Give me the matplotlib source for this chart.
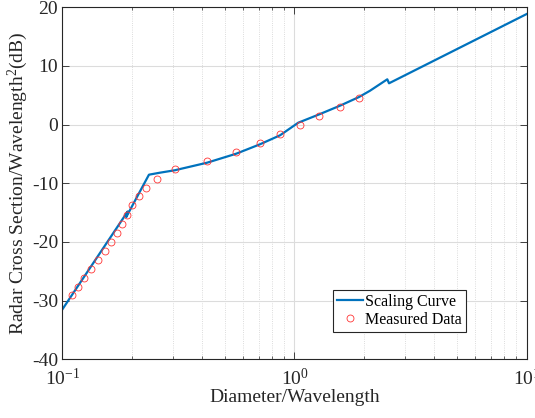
import matplotlib
matplotlib.use('Agg')
import matplotlib.pyplot as plt
from matplotlib.ticker import LogLocator, NullFormatter

plt.rcParams['font.family'] = ['Liberation Serif', 'DejaVu Serif']
plt.rcParams['mathtext.fontset'] = 'custom'
plt.rcParams['mathtext.rm'] = 'Liberation Serif'
plt.rcParams['mathtext.it'] = 'Liberation Serif:italic'
plt.rcParams['axes.unicode_minus'] = False

# curva de escala (vertices)
curve_x = [0.1, 0.1913, 0.1886, 0.2362, 0.2634, 0.3048, 0.420, 0.5614, 0.7101,
           0.8662, 1.038, 1.279, 1.570, 1.896, 2.114, 2.51, 2.553, 10.0]
curve_y = [-31.51, -14.8, -15.74, -8.53, -8.19, -7.78, -6.49, -4.95, -3.35,
           -1.82, 0.33, 1.76, 3.23, 4.71, 5.78, 7.73, 7.05, 18.86]

# datos medidos
meas_x = [0.1104, 0.1172, 0.1244, 0.1333, 0.1429, 0.1527, 0.1621, 0.1718,
          0.1811, 0.1902, 0.2002, 0.2139, 0.2286, 0.2557, 0.3057, 0.4200,
          0.5614, 0.7101, 0.8662, 1.053, 1.279, 1.570, 1.896]
meas_y = [-29.09, -27.62, -26.09, -24.55, -23.02, -21.49, -19.95, -18.42,
          -16.87, -15.32, -13.78, -12.16, -10.75, -9.21, -7.61, -6.25,
          -4.71, -3.13, -1.60, -0.06, 1.47, 3.06, 4.54]

fig = plt.figure(figsize=(5.35, 4.18), dpi=100)
ax = fig.add_axes([0.1164, 0.1404, 0.8681, 0.8421])

ax.semilogx(curve_x, curve_y, color='#0072BD', linewidth=1.6, label='Scaling Curve')
ax.semilogx(meas_x, meas_y, 'o', markerfacecolor='none', markeredgecolor='#ff3333',
            markersize=5, markeredgewidth=0.6, label='Measured Data')

ax.set_xlim(0.1, 10)
ax.set_ylim(-40, 20)
ax.set_yticks([-40, -30, -20, -10, 0, 10, 20])
ax.xaxis.set_minor_locator(LogLocator(base=10, subs=range(2, 10)))
ax.xaxis.set_minor_formatter(NullFormatter())

ax.grid(True, which='major', color='#dcdcdc', linewidth=0.8, linestyle='-')
ax.grid(True, which='minor', axis='x', color='#d0d0d0', linewidth=0.6, linestyle=':')
ax.set_axisbelow(True)

ax.tick_params(which='both', direction='in', top=True, right=True,
               colors='#262626', labelsize=14)
ax.tick_params(which='major', length=5, width=0.6)
ax.tick_params(which='minor', length=2.5, width=0.5)
ax.tick_params(axis='x', pad=6)
ax.tick_params(axis='y', pad=3)
for s in ax.spines.values():
    s.set_color('#262626')
    s.set_linewidth(0.8)

ax.set_xlabel('Diameter/Wavelength', fontsize=14, color='#262626', labelpad=0)
ax.set_ylabel('Radar Cross Section/Wavelength$^{2}$(dB)', fontsize=14,
              color='#262626', labelpad=1)

leg = ax.legend(loc='lower left', bbox_to_anchor=(0.5836, 0.0776), borderaxespad=0,
                fontsize=11.5, fancybox=False, framealpha=1, edgecolor='#262626',
                handlelength=1.6, handletextpad=0.15, labelspacing=0.15,
                borderpad=0.25)
leg.get_frame().set_linewidth(0.8)

plt.savefig('out.png', dpi=100)
